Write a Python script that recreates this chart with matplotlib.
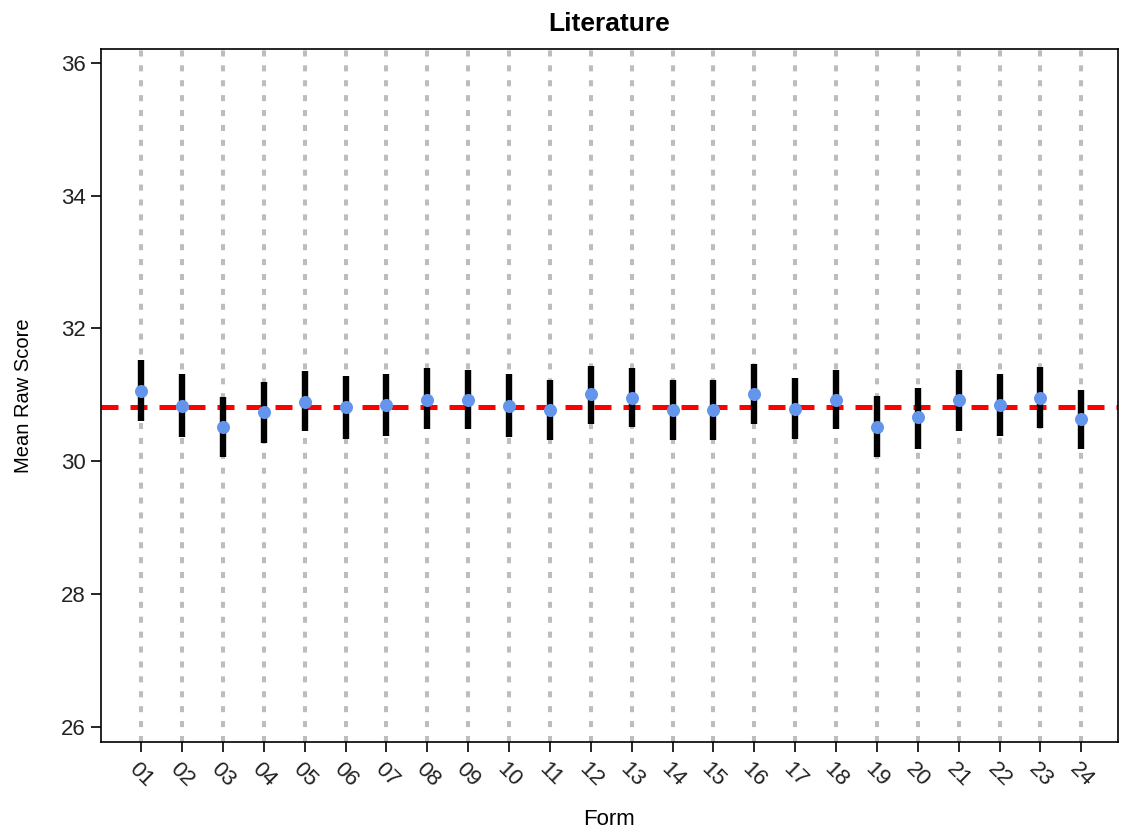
import matplotlib
matplotlib.use("Agg")
import matplotlib.pyplot as plt
import numpy as np

plt.rcParams['font.family'] = ['Liberation Sans', 'DejaVu Sans']

forms = ["01", "02", "03", "04", "05", "06", "07", "08", "09", "10", "11", "12",
         "13", "14", "15", "16", "17", "18", "19", "20", "21", "22", "23", "24"]
means = [31.06, 30.84, 30.52, 30.74, 30.90, 30.82, 30.85, 30.93, 30.93, 30.84, 30.77, 31.01,
         30.96, 30.77, 30.77, 31.02, 30.78, 30.93, 30.52, 30.66, 30.93, 30.85, 30.96, 30.63]
lower = [30.61, 30.36, 30.06, 30.28, 30.45, 30.33, 30.38, 30.48, 30.48, 30.36, 30.32, 30.56,
         30.51, 30.32, 30.32, 30.56, 30.33, 30.48, 30.06, 30.18, 30.46, 30.38, 30.50, 30.18]
upper = [31.52, 31.31, 30.97, 31.19, 31.36, 31.28, 31.31, 31.41, 31.38, 31.31, 31.22, 31.44,
         31.41, 31.22, 31.22, 31.47, 31.25, 31.38, 30.98, 31.11, 31.38, 31.31, 31.42, 31.08]
overall_mean = 30.82
yticks = [26, 28, 30, 32, 34, 36]

fig = plt.figure(figsize=(11.24, 8.32), dpi=100)
ax = fig.add_axes([0.0896, 0.1085, 0.9051, 0.8322])

x = np.arange(1, len(forms) + 1)

for xi in x:
    ax.axvline(xi, color='#bdbdbd', lw=2.9, linestyle=(0, (1.5, 2.2)),
               dash_capstyle='butt', zorder=1)

ax.axhline(overall_mean, color='#ff0000', lw=3.6, linestyle=(0, (3.4, 2.4)),
           dash_capstyle='butt', zorder=2)

ax.vlines(x, lower, upper, color='black', lw=4.6, zorder=3)
ax.plot(x, means, 'o', color='#6495ED', markersize=9.4, markeredgewidth=0, zorder=4)

ax.set_xlim(0.01, 24.9)
ax.set_ylim(25.78, 36.2)
ax.set_xticks(x)
ax.set_xticklabels(forms, rotation=-45, ha='center', va='top')
ax.set_yticks(yticks)
ax.set_yticklabels([str(v) for v in yticks])
ax.tick_params(axis='both', direction='out', length=7, width=1.2, labelsize=16,
               colors='black', labelcolor='#222222')
ax.tick_params(axis='x', pad=5)
ax.tick_params(axis='y', pad=4)
for sp in ax.spines.values():
    sp.set_linewidth(1.2)
    sp.set_color('black')

ax.set_title("Literature", fontsize=19, fontweight='bold', pad=13)
ax.set_xlabel("Form", fontsize=16, labelpad=13)
ax.set_ylabel("Mean Raw Score", fontsize=14.5, labelpad=20)

fig.savefig("out.png", dpi=100)
